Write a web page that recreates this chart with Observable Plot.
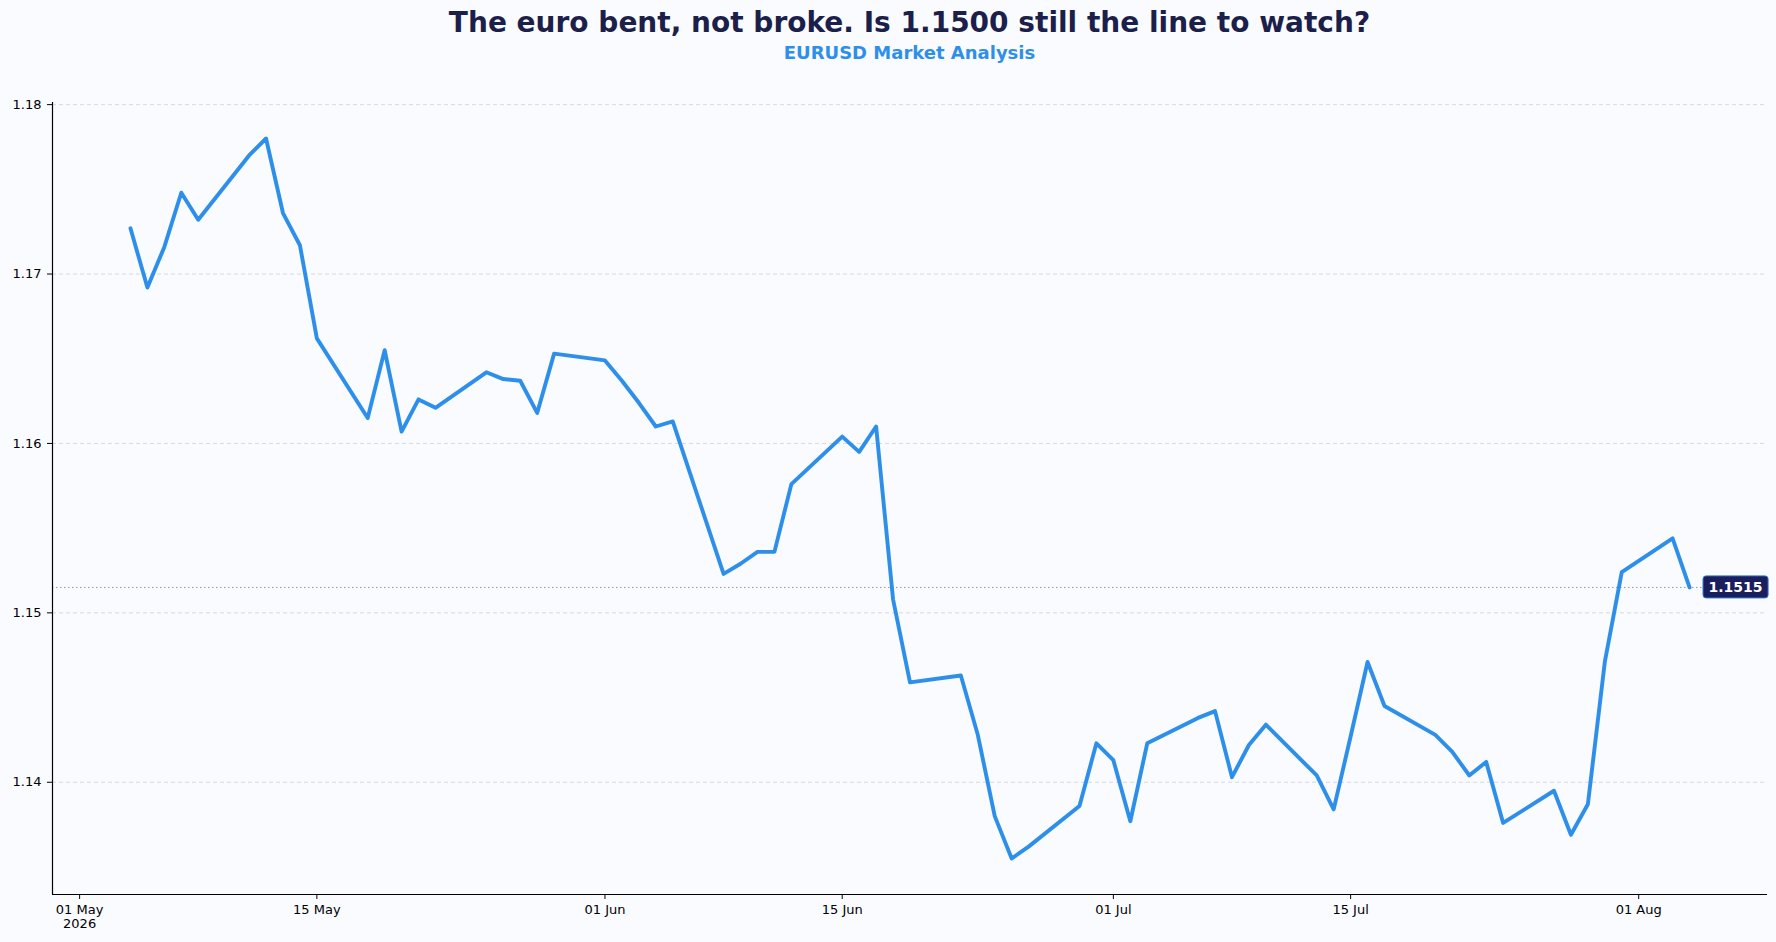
<!DOCTYPE html>
<html>
<head>
<meta charset="utf-8">
<script src="https://cdn.jsdelivr.net/npm/d3@7"></script>
<script src="https://cdn.jsdelivr.net/npm/@observablehq/plot@0.6"></script>
<style>
  html, body { margin: 0; padding: 0; background: #f9fbfe; }
  #wrap { position: relative; width: 1776px; height: 942px; background: #f9fbfe; font-family: "DejaVu Sans", sans-serif; overflow: hidden; }
  #title { position: absolute; left: 52px; width: 1715px; top: 8.6px; text-align: center; font-size: 28px; line-height: 28px; font-weight: bold; color: #1c1f4a; white-space: nowrap; }
  #subtitle { position: absolute; left: 52px; width: 1715px; top: 43.5px; text-align: center; font-size: 18px; line-height: 18px; font-weight: bold; color: #2e8fea; white-space: nowrap; }
  #chart { position: absolute; left: 0; top: 70px; }
</style>
</head>
<body>
<div id="wrap">
  <div id="title"></div>
  <div id="subtitle"></div>
  <div id="chart"></div>
</div>
<script>
const titleText = "The euro bent, not broke. Is 1.1500 still the line to watch?";
const subtitleText = "EURUSD Market Analysis";

const dates = [
  "2026-05-04","2026-05-05","2026-05-06","2026-05-07","2026-05-08",
  "2026-05-11","2026-05-12","2026-05-13","2026-05-14","2026-05-15",
  "2026-05-18","2026-05-19","2026-05-20","2026-05-21","2026-05-22",
  "2026-05-25","2026-05-26","2026-05-27","2026-05-28","2026-05-29",
  "2026-06-01","2026-06-02","2026-06-03","2026-06-04","2026-06-05",
  "2026-06-08","2026-06-09","2026-06-10","2026-06-11","2026-06-12",
  "2026-06-15","2026-06-16","2026-06-17","2026-06-18","2026-06-19",
  "2026-06-22","2026-06-23","2026-06-24","2026-06-25","2026-06-26",
  "2026-06-29","2026-06-30","2026-07-01","2026-07-02","2026-07-03",
  "2026-07-06","2026-07-07","2026-07-08","2026-07-09","2026-07-10",
  "2026-07-13","2026-07-14","2026-07-15","2026-07-16","2026-07-17",
  "2026-07-20","2026-07-21","2026-07-22","2026-07-23","2026-07-24",
  "2026-07-27","2026-07-28","2026-07-29","2026-07-30","2026-07-31",
  "2026-08-03","2026-08-04"
];
const closes = [
  1.1727, 1.1692, 1.1716, 1.1748, 1.1732,
  1.1770, 1.1780, 1.1736, 1.1717, 1.1662,
  1.1615, 1.1655, 1.1607, 1.1626, 1.1621,
  1.1642, 1.1638, 1.1637, 1.1618, 1.1653,
  1.1649, 1.1637, 1.1624, 1.1610, 1.1613,
  1.1523, 1.1529, 1.1536, 1.1536, 1.1576,
  1.1604, 1.1595, 1.1610, 1.1508, 1.1459,
  1.1463, 1.1428, 1.1380, 1.1355, 1.1362,
  1.1386, 1.1423, 1.1413, 1.1377, 1.1423,
  1.1438, 1.1442, 1.1403, 1.1422, 1.1434,
  1.1404, 1.1384, 1.1427, 1.1471, 1.1445,
  1.1428, 1.1418, 1.1404, 1.1412, 1.1376,
  1.1395, 1.1369, 1.1387, 1.1471, 1.1524,
  1.1544, 1.1515
];
const xTickDates = ["2026-05-01","2026-05-15","2026-06-01","2026-06-15","2026-07-01","2026-07-15","2026-08-01"];
const yTicks = [1.14, 1.15, 1.16, 1.17, 1.18];

document.getElementById("title").textContent = titleText;
document.getElementById("subtitle").textContent = subtitleText;

const parse = s => new Date(s + "T00:00:00Z");
const data = dates.map((d, i) => ({date: parse(d), close: closes[i]}));
const xTicks = xTickDates.map(parse);

const first = data[0], last = data[data.length - 1];
const xm = (last.date - first.date) * 0.05;
const xDomain = [new Date(+first.date - xm), new Date(+last.date + xm)];
const [ymin, ymax] = d3.extent(closes);
const ym = (ymax - ymin) * 0.05;
const yDomain = [ymin - ym, ymax + ym];

const fmtDay = d3.utcFormat("%d %b");
const xFormat = d => (+d === +xTicks[0]) ? fmtDay(d) + "\n" + d.getUTCFullYear() : fmtDay(d);

const chart = Plot.plot({
  width: 1776,
  height: 872,
  marginTop: 32,
  marginBottom: 48,
  marginLeft: 52,
  marginRight: 9,
  style: {background: "transparent", fontFamily: "DejaVu Sans", fontSize: "13px", color: "#000"},
  x: {type: "utc", domain: xDomain},
  y: {domain: yDomain},
  marks: [
    Plot.gridY(yTicks, {stroke: "#cdd2d8", strokeOpacity: 1, strokeWidth: 0.8, strokeDasharray: "4,3"}),
    Plot.ruleY([last.close], {stroke: "#9a9a9a", strokeWidth: 1, strokeDasharray: "1.5,2.5"}),
    Plot.axisY(yTicks, {tickSize: 5, tickPadding: 6, tickFormat: d => d.toFixed(2), label: null, fontSize: 13}),
    Plot.axisX(xTicks, {tickSize: 5, tickPadding: 4, tickFormat: xFormat, label: null, fontSize: 13, lineHeight: 1.1}),
    Plot.ruleX([xDomain[0]], {stroke: "#000", strokeWidth: 1.2}),
    Plot.ruleY([yDomain[0]], {stroke: "#000", strokeWidth: 1.2}),
    Plot.line(data, {x: "date", y: "close", stroke: "#2e8fea", strokeWidth: 3.9}),
    Plot.text([last], {x: "date", y: "close", text: d => d.close.toFixed(4), dx: 19, textAnchor: "start", fill: "#ffffff", fontWeight: "bold", fontSize: 14, className: "lastlabel"})
  ]
});
document.getElementById("chart").appendChild(chart);

// badge behind the last-value label
const txt = chart.querySelector(".lastlabel text");
if (txt) {
  const bb = txt.getBBox();
  const rect = document.createElementNS("http://www.w3.org/2000/svg", "rect");
  rect.setAttribute("x", bb.x - 5.5);
  rect.setAttribute("y", bb.y + bb.height / 2 - 11);
  rect.setAttribute("width", bb.width + 11);
  rect.setAttribute("height", 22);
  rect.setAttribute("rx", 3);
  rect.setAttribute("fill", "#1a1f5c");
  rect.setAttribute("stroke", "#2e6fd0");
  rect.setAttribute("stroke-width", 1);
  const tf = txt.getAttribute("transform");
  if (tf) rect.setAttribute("transform", tf);
  txt.parentNode.insertBefore(rect, txt);
}
</script>
</body>
</html>
